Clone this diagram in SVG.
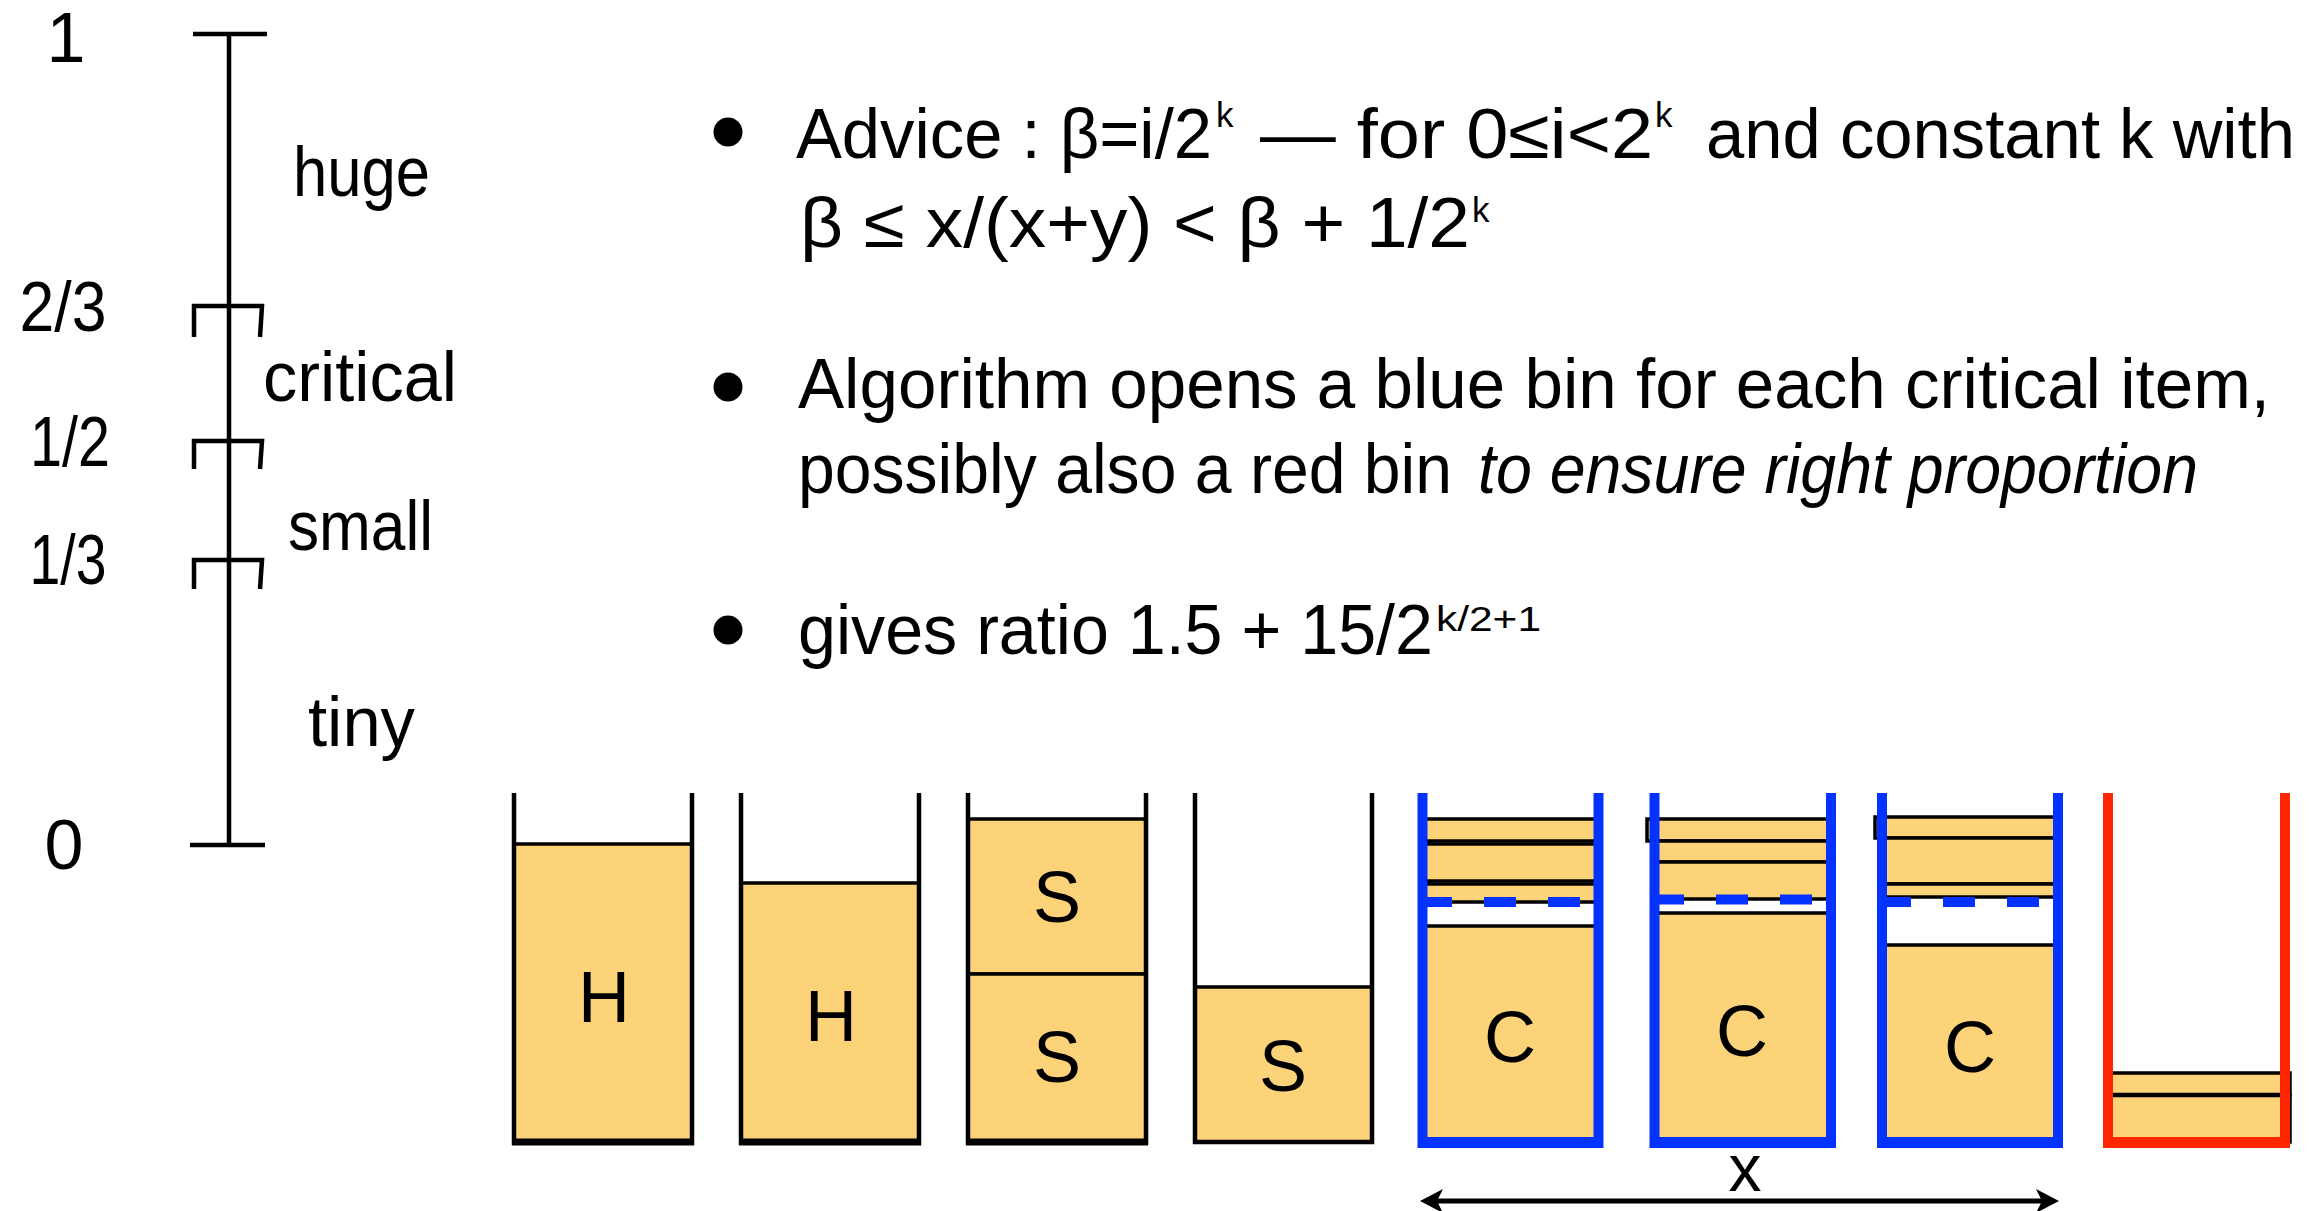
<svg xmlns="http://www.w3.org/2000/svg" width="2310" height="1211" viewBox="0 0 2310 1211">
<style>
.t{font-family:"Liberation Sans",Arial,sans-serif;font-size:70px;fill:#000}
.sup{font-family:"Liberation Sans",Arial,sans-serif;font-size:35px;fill:#000}
.it{font-style:italic}
.lbl{font-family:"Liberation Sans",Arial,sans-serif;font-size:72px;fill:#000;text-anchor:middle}
.mid{text-anchor:middle}
.ax{stroke:#000;stroke-width:4.5;fill:none}
.item{fill:#FDD37A;stroke:#000;stroke-width:3.5}
.wall{stroke:#000;stroke-width:4.5}
.base{stroke:#000;stroke-width:7}
.bwall{stroke:#0433FF;stroke-width:10}
.bdash{stroke:#0433FF;stroke-width:10;stroke-dasharray:32 32}
.rwall{stroke:#FF2600;stroke-width:10}
.blk{stroke:#000;stroke-width:4.5}
</style>
<defs>
<marker id="ah" viewBox="-25 -13 27 26" markerWidth="27" markerHeight="26" refX="-17" refY="0" markerUnits="userSpaceOnUse" orient="auto-start-reverse">
<path d="M0,0 L-23,-12 L-17,0 L-23,12 Z" fill="#000"/>
</marker>
</defs>
<rect width="2310" height="1211" fill="#fff"/>

<g id="scale">
<line class="ax" x1="229" y1="34" x2="229" y2="845"/>
<line class="ax" x1="193" y1="34" x2="267" y2="34"/>
<line class="ax" x1="190" y1="845" x2="265" y2="845"/>
<path class="ax" d="M194,337 V306 H262 L260,337"/>
<path class="ax" d="M194,469 V441 H262 L260,469"/>
<path class="ax" d="M194,589 V560 H262 L260,589"/>
</g>
<g id="scale-labels">
<text class="t mid" x="66" y="62">1</text>
<text class="t mid" x="63" y="331" textLength="87" lengthAdjust="spacingAndGlyphs">2/3</text>
<text class="t mid" x="70" y="466" textLength="80" lengthAdjust="spacingAndGlyphs">1/2</text>
<text class="t mid" x="68" y="584" textLength="77" lengthAdjust="spacingAndGlyphs">1/3</text>
<text class="t mid" x="64" y="869">0</text>
<text class="t" x="293" y="196" textLength="137" lengthAdjust="spacingAndGlyphs">huge</text>
<text class="t" x="263" y="401" textLength="194" lengthAdjust="spacingAndGlyphs">critical</text>
<text class="t" x="288" y="550" textLength="145" lengthAdjust="spacingAndGlyphs">small</text>
<text class="t" x="308" y="746" textLength="107" lengthAdjust="spacingAndGlyphs">tiny</text>
</g>

<g id="bullet1">
<circle cx="728" cy="132" r="14.5" fill="#000"/>
<text class="t" x="796" y="158" textLength="416" lengthAdjust="spacingAndGlyphs">Advice : β=i/2</text>
<text class="sup" x="1216" y="127">k</text>
<text class="t" x="1260" y="158" textLength="393" lengthAdjust="spacingAndGlyphs">— for 0≤i&lt;2</text>
<text class="sup" x="1655" y="127">k</text>
<text class="t" x="1706" y="158" textLength="589" lengthAdjust="spacingAndGlyphs">and constant k with</text>
<text class="t" x="800" y="247" textLength="670" lengthAdjust="spacingAndGlyphs">β ≤ x/(x+y) &lt; β + 1/2</text>
<text class="sup" x="1472" y="222">k</text>
</g>

<g id="bullet2">
<circle cx="728" cy="387" r="14.5" fill="#000"/>
<text class="t" x="798" y="408" textLength="1472" lengthAdjust="spacingAndGlyphs">Algorithm opens a blue bin for each critical item,</text>
<text class="t" x="798" y="493" textLength="654" lengthAdjust="spacingAndGlyphs">possibly also a red bin</text>
<text class="t it" x="1478" y="493" textLength="720" lengthAdjust="spacingAndGlyphs">to ensure right proportion</text>
</g>

<g id="bullet3">
<circle cx="728" cy="630" r="14.5" fill="#000"/>
<text class="t" x="798" y="654" textLength="635" lengthAdjust="spacingAndGlyphs">gives ratio 1.5 + 15/2</text>
<text class="sup" x="1436" y="631" textLength="105" lengthAdjust="spacingAndGlyphs">k/2+1</text>
</g>

<g id="bin1">
<rect class="item" x="514" y="844" width="178" height="298"/>
<line class="wall" x1="514" y1="793" x2="514" y2="1145"/>
<line class="wall" x1="692" y1="793" x2="692" y2="1145"/>
<line class="base" x1="512" y1="1142" x2="694" y2="1142"/>
<text class="lbl" x="604" y="1022">H</text>
</g>
<g id="bin2">
<rect class="item" x="741" y="883" width="178" height="259"/>
<line class="wall" x1="741" y1="793" x2="741" y2="1145"/>
<line class="wall" x1="919" y1="793" x2="919" y2="1145"/>
<line class="base" x1="739" y1="1142" x2="921" y2="1142"/>
<text class="lbl" x="831" y="1041">H</text>
</g>
<g id="bin3">
<rect class="item" x="968" y="819" width="178" height="155"/>
<rect class="item" x="968" y="974" width="178" height="168"/>
<line class="wall" x1="968" y1="793" x2="968" y2="1145"/>
<line class="wall" x1="1146" y1="793" x2="1146" y2="1145"/>
<line class="base" x1="966" y1="1142" x2="1148" y2="1142"/>
<text class="lbl" x="1057" y="922">S</text>
<text class="lbl" x="1057" y="1082">S</text>
</g>
<g id="bin4">
<rect class="item" x="1195" y="987" width="177" height="155"/>
<line class="wall" x1="1195" y1="793" x2="1195" y2="1144"/>
<line class="wall" x1="1372" y1="793" x2="1372" y2="1144"/>
<line class="wall" x1="1193" y1="1142" x2="1374" y2="1142"/>
<text class="lbl" x="1283" y="1091">S</text>
</g>

<g id="bin5">
<rect class="item" x="1422" y="819" width="176" height="22"/>
<rect class="item" x="1422" y="844" width="176" height="37"/>
<rect class="item" x="1422" y="884" width="176" height="18"/>
<rect class="item" x="1422" y="926" width="176" height="216"/>
<line class="bdash" x1="1420" y1="902" x2="1593" y2="902"/>
<line class="bwall" x1="1422.5" y1="793" x2="1422.5" y2="1148"/>
<line class="bwall" x1="1598.5" y1="793" x2="1598.5" y2="1148"/>
<line class="bwall" x1="1422" y1="1142.5" x2="1599" y2="1142.5" style="stroke-width:11"/>
<text class="lbl" x="1510" y="1062">C</text>
</g>
<g id="bin6">
<rect class="item" x="1647" y="819" width="184" height="22"/>
<rect class="item" x="1654" y="841" width="177" height="21"/>
<rect class="item" x="1654" y="862" width="177" height="37"/>
<rect class="item" x="1654" y="913" width="177" height="229"/>
<line class="bdash" x1="1652" y1="899.5" x2="1826" y2="899.5"/>
<line class="bwall" x1="1654.5" y1="793" x2="1654.5" y2="1148"/>
<line class="bwall" x1="1831" y1="793" x2="1831" y2="1148"/>
<line class="bwall" x1="1654" y1="1142.5" x2="1832" y2="1142.5" style="stroke-width:11"/>
<text class="lbl" x="1742" y="1056">C</text>
</g>
<g id="bin7">
<rect class="item" x="1875" y="817" width="183" height="21"/>
<rect class="item" x="1882" y="838" width="176" height="46"/>
<rect class="item" x="1882" y="884" width="176" height="13"/>
<rect class="item" x="1882" y="945" width="176" height="197"/>
<line class="bdash" x1="1879" y1="902" x2="2053" y2="902"/>
<line class="bwall" x1="1882" y1="793" x2="1882" y2="1148"/>
<line class="bwall" x1="2058" y1="793" x2="2058" y2="1148"/>
<line class="bwall" x1="1881" y1="1142.5" x2="2059" y2="1142.5" style="stroke-width:11"/>
<text class="lbl" x="1970" y="1072">C</text>
</g>
<g id="bin8">
<rect class="item" x="2108" y="1073" width="182" height="22"/>
<rect class="item" x="2108" y="1095" width="182" height="47"/>
<line class="blk" x1="2110" y1="1095" x2="2282" y2="1095"/>
<line class="rwall" x1="2108" y1="793" x2="2108" y2="1148"/>
<line class="rwall" x1="2285" y1="793" x2="2285" y2="1148"/>
<line class="rwall" x1="2107" y1="1142.5" x2="2286" y2="1142.5" style="stroke-width:11"/>
</g>

<g id="connectors">
<line x1="1437" y1="1201" x2="2042" y2="1201" stroke="#000" stroke-width="5" marker-start="url(#ah)" marker-end="url(#ah)"/>
<text class="t mid" x="1745" y="1191" style="font-size:66px">x</text>
</g>
</svg>
